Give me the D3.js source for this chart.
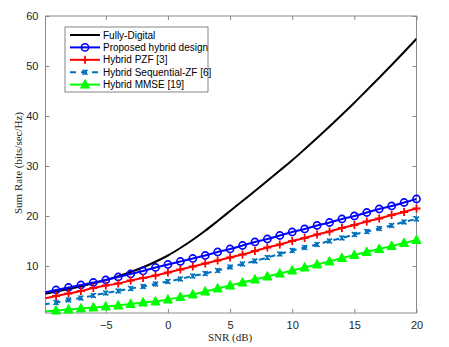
<!DOCTYPE html>
<html>
<head>
<meta charset="utf-8">
<script src="https://cdn.jsdelivr.net/npm/d3@7"></script>
<style>
  body { margin: 0; background: #fff; }
  svg { display: block; }
</style>
</head>
<body>
<svg id="graph" width="449" height="347"></svg>
<script>
// SNR points (dB)
const snr = d3.range(-10, 21, 1);

// Sum rates (bits/sec/Hz)
const fullyDigital = [4.4, 4.9, 5.4, 5.95, 6.55, 7.2, 7.95, 8.8, 9.75, 10.85, 12.1, 13.6, 15.25, 17.05, 19.0, 21.0,
  23.0, 25.0, 27.05, 29.1, 31.15, 33.35, 35.6, 37.9, 40.25, 42.65, 45.15, 47.65, 50.2, 52.8, 55.45];
const proposedHybrid = [4.7, 5.2, 5.7, 6.2, 6.7, 7.2, 7.8, 8.4, 9.0, 9.7, 10.3, 10.9, 11.5, 12.1, 12.8, 13.4,
  14.1, 14.8, 15.4, 16.1, 16.8, 17.4, 18.1, 18.7, 19.4, 20.0, 20.7, 21.4, 22.0, 22.7, 23.4];
const hybridPZF = [3.5, 4.0, 4.5, 5.0, 5.6, 6.1, 6.5, 7.1, 7.6, 8.1, 8.7, 9.3, 9.9, 10.5, 11.1, 11.7,
  12.3, 13.0, 13.7, 14.3, 15.0, 15.6, 16.3, 16.9, 17.6, 18.2, 18.9, 19.5, 20.2, 20.8, 21.5];
const hybridSeqZF = [2.3, 2.7, 3.2, 3.6, 4.1, 4.6, 5.0, 5.5, 5.9, 6.4, 6.9, 7.4, 8.0, 8.5, 9.1, 9.8,
  10.4, 11.0, 11.7, 12.4, 13.1, 13.7, 14.3, 15.0, 15.6, 16.3, 16.9, 17.5, 18.1, 18.8, 19.4];
const hybridMMSE = [0.9, 1.1, 1.3, 1.5, 1.7, 1.9, 2.1, 2.4, 2.7, 2.9, 3.3, 3.8, 4.3, 4.9, 5.5, 6.1,
  6.7, 7.3, 7.9, 8.5, 9.1, 9.7, 10.3, 10.9, 11.6, 12.2, 12.8, 13.4, 14.0, 14.6, 15.2];

const xTicks = [-5, 0, 5, 10, 15, 20];
const yTicks = [10, 20, 30, 40, 50, 60];

const seriesNames = ['Fully-Digital', 'Proposed hybrid design', 'Hybrid PZF [3]',
  'Hybrid Sequential-ZF [6]', 'Hybrid MMSE [19]'];

const series = [
  { name: seriesNames[0], values: fullyDigital, color: '#000000', marker: 'none', dash: null },
  { name: seriesNames[1], values: proposedHybrid, color: '#0000ff', marker: 'circle', dash: null },
  { name: seriesNames[2], values: hybridPZF, color: '#ff0000', marker: 'plus', dash: null },
  { name: seriesNames[3], values: hybridSeqZF, color: '#0072bd', marker: 'cross', dash: '6,5' },
  { name: seriesNames[4], values: hybridMMSE, color: '#00ff00', marker: 'triangle', dash: null }
];

const svg = d3.select('#graph');
const margin = { top: 16, right: 32, bottom: 34, left: 45.5 };
const width = 416.5 - margin.left;
const height = 313 - margin.top;

const x = d3.scaleLinear().domain([-9.85, 20]).range([0, width]);
const y = d3.scaleLinear().domain([0.6, 60]).range([height, 0]);

const g = svg.append('g')
  .attr('transform', `translate(${margin.left},${margin.top})`);

g.append('defs').append('clipPath')
  .attr('id', 'clip')
  .append('rect')
  .attr('width', width)
  .attr('height', height);

const axisColor = '#8a8a8a';
const textColor = '#262626';

// Box
g.append('rect')
  .attr('width', width)
  .attr('height', height)
  .attr('fill', 'none')
  .attr('stroke', axisColor)
  .attr('stroke-width', 1);

// X - Axis (ticks inside)
g.append('g')
  .attr('transform', `translate(0,${height})`)
  .call(d3.axisBottom(x).tickValues(xTicks).tickSize(-4).tickPadding(8));

// top ticks
g.append('g')
  .call(d3.axisTop(x).tickValues(xTicks).tickSize(-4).tickFormat(''));

// Y - Axis
g.append('g')
  .call(d3.axisLeft(y).tickValues(yTicks).tickSize(-4).tickPadding(7));

// right ticks
g.append('g')
  .attr('transform', `translate(${width},0)`)
  .call(d3.axisRight(y).tickValues(yTicks).tickSize(-4).tickFormat(''));

g.selectAll('.domain').remove();
g.selectAll('.tick line').attr('stroke', axisColor);
g.selectAll('.tick text')
  .attr('fill', textColor)
  .style('font-family', 'Liberation Sans, Arial, sans-serif')
  .style('font-size', '11px');

// Axis labels
g.append('text')
  .attr('x', x(5))
  .attr('y', height + 28)
  .attr('text-anchor', 'middle')
  .style('font-family', 'Liberation Serif, Times New Roman, serif')
  .style('font-size', '11px')
  .attr('fill', textColor)
  .text('SNR (dB)');

g.append('text')
  .attr('transform', `translate(${18 - margin.left},${163 - margin.top}) rotate(-90)`)
  .attr('text-anchor', 'middle')
  .attr('dy', '0.35em')
  .style('font-family', 'Liberation Serif, Times New Roman, serif')
  .style('font-size', '11px')
  .attr('fill', textColor)
  .text('Sum Rate (bits/sec/Hz)');

// Marker drawing
const drawMarker = (sel, s) => {
  if (s.marker === 'circle') {
    sel.append('circle')
      .attr('r', 3.6)
      .attr('fill', 'none')
      .attr('stroke', s.color)
      .attr('stroke-width', 1.6);
  } else if (s.marker === 'plus') {
    sel.append('path')
      .attr('d', 'M-4,0H4M0,-4V4')
      .attr('stroke', s.color)
      .attr('stroke-width', 1.8);
  } else if (s.marker === 'cross') {
    sel.append('path')
      .attr('d', 'M-2.5,-2.5L2.5,2.5M-2.5,2.5L2.5,-2.5M0,-2.5V2.5')
      .attr('stroke', s.color)
      .attr('stroke-width', 1.6);
  } else if (s.marker === 'triangle') {
    sel.append('path')
      .attr('d', 'M0,-5L4.5,3.5L-4.5,3.5Z')
      .attr('fill', s.color)
      .attr('stroke', s.color)
      .attr('stroke-width', 1);
  }
};

const line = d3.line()
  .x(d => x(d[0]))
  .y(d => y(d[1]))
  .curve(d3.curveMonotoneX);

const plot = g.append('g').attr('clip-path', 'url(#clip)');

// Draw lines and markers
series.forEach(s => {
  const pts = snr.map((v, i) => [v, s.values[i]]);

  plot.append('path')
    .datum(pts)
    .attr('fill', 'none')
    .attr('stroke', s.color)
    .attr('stroke-width', 2)
    .attr('stroke-dasharray', s.dash)
    .attr('d', line);

  if (s.marker !== 'none') {
    pts.filter(p => p[0] >= x.domain()[0]).forEach(p => {
      const m = g.append('g')
        .attr('transform', `translate(${x(p[0])},${y(p[1])})`);
      drawMarker(m, s);
    });
  }
});

// Legend
const legend = svg.append('g').attr('transform', 'translate(65,27)');

legend.append('rect')
  .attr('width', 143)
  .attr('height', 65)
  .attr('fill', '#fff')
  .attr('stroke', '#666')
  .attr('stroke-width', 0.8);

series.forEach((s, i) => {
  const row = legend.append('g')
    .attr('transform', `translate(0,${8 + i * 12.4})`);

  row.append('line')
    .attr('x1', 5)
    .attr('x2', 35)
    .attr('stroke', s.color)
    .attr('stroke-width', 2)
    .attr('stroke-dasharray', s.dash);

  const m = row.append('g').attr('transform', 'translate(20,0)');
  drawMarker(m, s);

  row.append('text')
    .attr('x', 38)
    .attr('dy', '0.35em')
    .style('font-family', 'Liberation Sans, Arial, sans-serif')
    .style('font-size', '10px')
    .attr('fill', '#000')
    .text(s.name);
});
</script>
</body>
</html>
